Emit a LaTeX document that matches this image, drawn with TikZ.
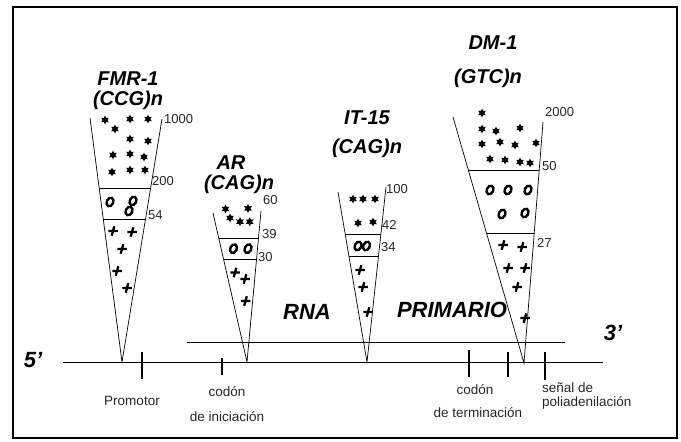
\documentclass[tikz,border=0pt]{standalone}
\usepackage{fontspec}
\setmainfont{Liberation Sans}
\usetikzlibrary{shapes.geometric}

\begin{document}
\begin{tikzpicture}[x=1pt, y=-1pt,
    gene/.style={font=\fontsize{20}{20}\selectfont\bfseries\itshape,
                 inner sep=0pt},
    big/.style={font=\fontsize{22}{22}\selectfont\bfseries\itshape,
                inner sep=0pt},
    num/.style={font=\fontsize{13}{13}\selectfont, anchor=west,
                inner sep=1pt, text=black!85},
    note/.style={font=\fontsize{13.5}{13.5}\selectfont, inner sep=0pt,
                 text=black!85},
    pstar/.style={star, star points=6, star point ratio=1.9, fill,
                  inner sep=0pt, minimum size=9pt},
    pring/.style={ellipse, draw, line width=2.4pt, inner sep=0pt,
                  minimum width=6.5pt, minimum height=9pt, rotate=-25},
    pplus/.style={rectangle, inner sep=0pt, minimum size=9.5pt,
                  path picture={
                    \draw[line width=2.3pt]
                      (path picture bounding box.west) --
                      (path picture bounding box.east)
                      ([xshift=-1.3pt]path picture bounding box.south) --
                      ([xshift=1.3pt]path picture bounding box.north);}},
    cone/.style={line width=0.7pt},
    tck/.style={line width=1.4pt}
]
    \useasboundingbox (0,0) rectangle (681,442);
    \draw[line width=2pt] (13,7) rectangle (677,438);

    % DNA and RNA
    \coordinate (dnaL) at (63,362);
    \coordinate (dnaR) at (603,362);
    \coordinate (rnaL) at (187,342);
    \coordinate (rnaR) at (565,342);
    \draw[cone] (dnaL) -- (dnaR);
    \draw[cone] (rnaL) -- (rnaR);
    \node[big] (five) at (33,360) {5'};
    \node[big] (three) at (613,333) {3'};
    \node[big] (rna) at (307,312) {RNA};
    \node[big] (prim) at (452,310) {PRIMARIO};

    % FMR-1
    \node[gene] (f-name) at (128,79) {FMR-1};
    \node[gene] (f-rep) at (128,100) {(CCG)n};
    \coordinate (f-tl) at (90,118);
    \coordinate (f-tr) at (162,119);
    \coordinate (f-ap) at (122,362);
    \draw[cone] (f-tl) -- (f-ap) -- (f-tr);
    \draw[cone] (99.2,188) -- (150.6,188);
    \draw[cone] (103.2,219) -- (145.5,219);
    \node[num] (f-n1) at (163,119) {1000};
    \node[num] (f-n2) at (151,181) {200};
    \node[num] (f-n3) at (147,215) {54};
    \foreach \p [count=\i] in {(105,120),(130,119),(148,119),(115,129),
        (130,139),(148,141),(113,155),(130,154),(144,157),(112,172),
        (130,170),(145,170)}
        \node[pstar] (f-s\i) at \p {};
    \foreach \p [count=\i] in {(110,202),(133,201),(129,211)}
        \node[pring] (f-o\i) at \p {};
    \foreach \p [count=\i] in {(113,231),(132,232),(122,249),(117,271),
        (127,288)}
        \node[pplus] (f-p\i) at \p {};

    % AR
    \node[gene] (a-name) at (231,163) {AR};
    \node[gene] (a-rep) at (239,184) {(CAG)n};
    \coordinate (a-tl) at (213,213);
    \coordinate (a-tr) at (261,211);
    \coordinate (a-ap) at (247,362);
    \draw[cone] (a-tl) -- (a-ap) -- (a-tr);
    \draw[cone] (219,238.6) -- (258.4,238.6);
    \draw[cone] (223.5,259) -- (256.5,259);
    \node[num] (a-n1) at (262,200) {60};
    \node[num] (a-n2) at (261,234) {39};
    \node[num] (a-n3) at (257,257) {30};
    \foreach \p [count=\i] in {(225.5,209),(248,208.4),(230,218),
        (240,221.7),(249.7,221.7)}
        \node[pstar] (a-s\i) at \p {};
    \foreach \p [count=\i] in {(233.5,248.7),(248,248.7)}
        \node[pring] (a-o\i) at \p {};
    \foreach \p [count=\i] in {(235,272.5),(245,279),(245.5,301)}
        \node[pplus] (a-p\i) at \p {};

    % IT-15
    \node[gene] (i-name) at (367,118) {IT-15};
    \node[gene] (i-rep) at (367,148) {(CAG)n};
    \coordinate (i-tl) at (338,192);
    \coordinate (i-tr) at (386,187);
    \coordinate (i-ap) at (367,362);
    \draw[cone] (i-tl) -- (i-ap) -- (i-tr);
    \draw[cone] (345.2,234) -- (380.9,234);
    \draw[cone] (348.9,256) -- (378.5,256);
    \node[num] (i-n1) at (385,189) {100};
    \node[num] (i-n2) at (381,225) {42};
    \node[num] (i-n3) at (380,247) {34};
    \foreach \p [count=\i] in {(353,199),(363,199),(375,199),(358,223),
        (373,222)}
        \node[pstar] (i-s\i) at \p {};
    \foreach \p [count=\i] in {(358,246),(366.5,246)}
        \node[pring] (i-o\i) at \p {};
    \foreach \p [count=\i] in {(360,270),(363,287),(368,312)}
        \node[pplus] (i-p\i) at \p {};

    % DM-1
    \node[gene] (d-name) at (493,43) {DM-1};
    \node[gene] (d-rep) at (488,78) {(GTC)n};
    \coordinate (d-tl) at (453,117);
    \coordinate (d-tr) at (543,122);
    \coordinate (d-ap) at (524,363);
    \draw[cone] (d-tl) -- (d-ap) -- (d-tr);
    \draw[cone] (468.3,170) -- (539.2,170);
    \draw[cone] (486.5,233) -- (534.2,233);
    \node[num] (d-n1) at (544,112) {2000};
    \node[num] (d-n2) at (541,166) {50};
    \node[num] (d-n3) at (536,243) {27};
    \foreach \p [count=\i] in {(482,113),(482,129),(496,131),(520,128),
        (482,144),(500,142),(515,145),(536,143),(490,159),(505,160),
        (520,162),(530,163)}
        \node[pstar] (d-s\i) at \p {};
    \foreach \p [count=\i] in {(490,190),(508,190),(528,190),(502,214),
        (525,213)}
        \node[pring] (d-o\i) at \p {};
    \foreach \p [count=\i] in {(503,245),(522,247),(508,268),(525,268),
        (517,287),(525,318)}
        \node[pplus] (d-p\i) at \p {};

    % ticks and notes
    \coordinate (t1a) at (142,352);  \coordinate (t1b) at (142,379);
    \coordinate (t2a) at (222,358);  \coordinate (t2b) at (222,375);
    \coordinate (t3a) at (469,350);  \coordinate (t3b) at (469,377);
    \coordinate (t4a) at (508,352);  \coordinate (t4b) at (508,377);
    \coordinate (t5a) at (545,352);  \coordinate (t5b) at (545,380);
    \foreach \t in {t1,t2,t3,t4,t5}
        \draw[tck] (\t a) -- (\t b);
    \node[note] (prom) at (132,401) {Promotor};
    \node[note] (ini1) at (227,392) {codón};
    \node[note] (ini2) at (227,417) {de iniciación};
    \node[note] (ter1) at (475,390) {codón};
    \node[note] (ter2) at (478,413) {de terminación};
    \node[note, anchor=west] (pol1) at (542,388) {señal de};
    \node[note, anchor=west] (pol2) at (542,403) {poliadenilación};
\end{tikzpicture}
\end{document}
